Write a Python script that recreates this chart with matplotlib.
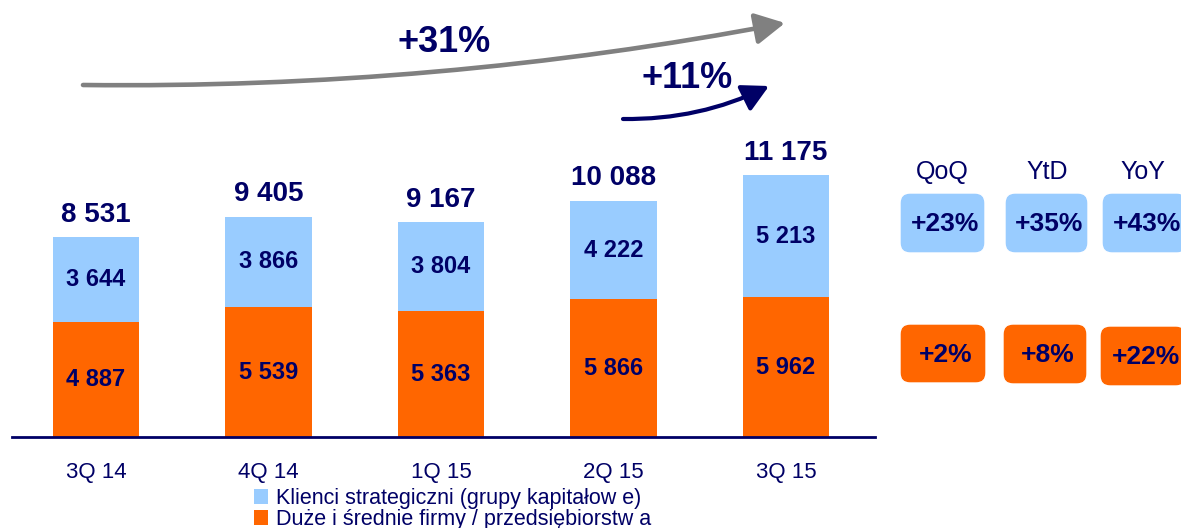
import numpy as np
import matplotlib.pyplot as plt
from matplotlib.patches import FancyBboxPatch

plt.rcParams['font.family'] = ['Liberation Sans', 'DejaVu Sans']

# data
quarters = ["3Q 14", "4Q 14", "1Q 15", "2Q 15", "3Q 15"]
strategic = [3644, 3866, 3804, 4222, 5213]
mid_large = [4887, 5539, 5363, 5866, 5962]
totals = [8531, 9405, 9167, 10088, 11175]

headers = ["QoQ", "YtD", "YoY"]
strategic_change = ["+23%", "+35%", "+43%"]
mid_large_change = ["+2%", "+8%", "+22%"]

growth_all = "+31%"
growth_qoq = "+11%"

legend_labels = ["Klienci strategiczni (grupy kapitałow e)",
                 "Duże i średnie firmy / przedsiębiorstw a"]

navy = "#000066"
blue = "#99CCFF"
orange = "#FF6600"
grey = "#808080"


def fmt(v):
    return "{:,}".format(v).replace(",", " ")


W, H = 1181, 528
fig = plt.figure(figsize=(W / 100, H / 100), dpi=100)

# bar panel (placed in pixel units)
ax = fig.add_axes([12 / W, (H - 437) / H, 863 / W, 437 / H])
x = np.arange(len(quarters))
b_org = ax.bar(x, mid_large, width=0.5, color=orange)
b_str = ax.bar(x, strategic, width=0.5, bottom=mid_large, color=blue)
ax.set_xlim(-0.487, 4.516)
ax.set_ylim(0, 18643)

for xi, m, s, t in zip(x, mid_large, strategic, totals):
    ax.text(xi, m / 2, fmt(m), ha="center", va="center", fontsize=17,
            fontweight="bold", color=navy)
    ax.text(xi, m + s / 2, fmt(s), ha="center", va="center", fontsize=17,
            fontweight="bold", color=navy)
    ax.annotate(fmt(t), (xi, t), xytext=(0, 11), textcoords="offset points",
                ha="center", va="baseline", fontsize=20, fontweight="bold",
                color=navy)

ax.set_xticks(x, quarters)
ax.set_yticks([])
ax.tick_params(axis="x", length=0, pad=18, labelsize=16, labelcolor=navy)
for side in ["top", "left", "right"]:
    ax.spines[side].set_visible(False)
ax.spines["bottom"].set_color(navy)
ax.spines["bottom"].set_linewidth(2)

fig.legend(handles=[b_str, b_org], labels=legend_labels, loc="upper left",
           bbox_to_anchor=(254 / W, 1 - 488 / H), frameon=False,
           fontsize=15.5, labelcolor=navy, handlelength=0.65, handleheight=0.65,
           handletextpad=0.35, labelspacing=0.0, borderpad=0, borderaxespad=0)

# overlay in image pixel coords for arrows and the right panel
ov = fig.add_axes([0, 0, 1, 1])
ov.set_xlim(0, W)
ov.set_ylim(H, 0)
ov.axis("off")
ov.patch.set_alpha(0)

ov.annotate("", xy=(785, 23), xytext=(83, 85),
            arrowprops=dict(arrowstyle="-|>,head_length=1.8,head_width=0.95",
                            mutation_scale=10, connectionstyle="arc3,rad=0.05",
                            lw=3.3, color=grey, shrinkA=0, shrinkB=0))
ov.text(444, 42, growth_all, ha="center", va="center", fontsize=26,
        fontweight="bold", color=navy)

ov.annotate("", xy=(769, 86), xytext=(623, 119),
            arrowprops=dict(arrowstyle="-|>,head_length=1.6,head_width=0.85",
                            mutation_scale=10, connectionstyle="arc3,rad=0.12",
                            lw=3, color=navy, shrinkA=0, shrinkB=0))
ov.text(687, 79, growth_qoq, ha="center", va="center", fontsize=26,
        fontweight="bold", color=navy)

# right panel: change boxes
head_x = [942, 1047, 1143]
blue_boxes = [(900, 193, 85, 60), (1005, 193, 83, 60), (1102, 193, 85, 60)]
orange_boxes = [(900, 324, 86, 59), (1003, 324, 84, 60), (1100, 326, 86, 60)]

for hx, h in zip(head_x, headers):
    ov.text(hx, 172, h, ha="center", va="center", fontsize=18, color=navy)

for boxes, labels, col in [(blue_boxes, strategic_change, blue),
                           (orange_boxes, mid_large_change, orange)]:
    for (bx, by, bw, bh), lab in zip(boxes, labels):
        ov.add_patch(FancyBboxPatch((bx, by), bw, bh,
                                    boxstyle="round,pad=0,rounding_size=10",
                                    facecolor=col, edgecolor="white", lw=1))
        ov.text(bx + bw / 2 + 3, by + bh / 2 + 1, lab, ha="center",
                va="center", fontsize=19, fontweight="bold", color=navy)

fig.savefig("out.png", dpi=100)
